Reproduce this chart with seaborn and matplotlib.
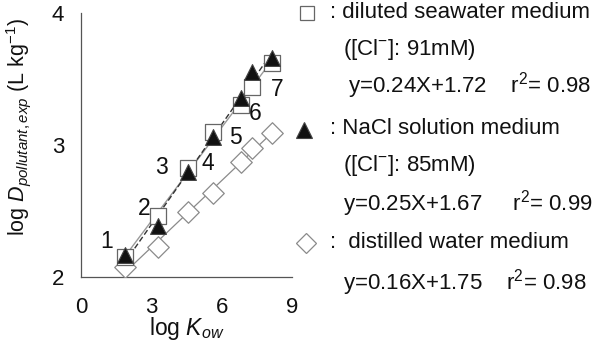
import numpy as np
import pandas as pd
import matplotlib
matplotlib.use("Agg")
import matplotlib.pyplot as plt
import seaborn as sns
from matplotlib.lines import Line2D

sns.set_style("white")
plt.rcParams['font.family'] = ['Liberation Sans', 'DejaVu Sans']
plt.rcParams['mathtext.fontset'] = 'custom'
plt.rcParams['mathtext.rm'] = 'Liberation Sans'
plt.rcParams['mathtext.it'] = 'Liberation Sans:italic'
plt.rcParams['mathtext.bf'] = 'Liberation Sans:bold'

# data
log_kow = [1.88, 3.30, 4.56, 5.63, 6.80, 7.29, 8.13]
seawater = [2.15, 2.46, 2.83, 3.10, 3.30, 3.44, 3.62]
nacl = [2.17, 2.39, 2.80, 3.06, 3.36, 3.55, 3.66]
distilled = [2.08, 2.23, 2.49, 2.64, 2.87, 2.98, 3.09]
compound_ids = ["1", "2", "3", "4", "5", "6", "7"]
label_x = [1.11, 2.69, 3.45, 5.42, 6.57, 7.43, 8.36]
label_y = [2.27, 2.52, 2.83, 2.86, 3.06, 3.24, 3.42]
x_ticks = [0, 3, 6, 9]
y_ticks = [2, 3, 4]

df = pd.DataFrame({"logKow": log_kow, "sea": seawater, "nacl": nacl, "dist": distilled})

fig = plt.figure(figsize=(6, 3.43), dpi=100)
ax = fig.add_axes([0.135, 0.192, 0.352, 0.770])

# regression lines
sns.regplot(data=df, x="logKow", y="dist", scatter=False, ci=None, ax=ax,
            line_kws=dict(color="#8a8a8a", lw=0.9, ls="-"), truncate=True)
sns.regplot(data=df, x="logKow", y="sea", scatter=False, ci=None, ax=ax,
            line_kws=dict(color="#9a9a9a", lw=1.0, ls="-"), truncate=True)
sns.regplot(data=df, x="logKow", y="nacl", scatter=False, ci=None, ax=ax,
            line_kws=dict(color="#333333", lw=1.0, ls=(0, (4, 2))), truncate=True)

# points
sns.scatterplot(data=df, x="logKow", y="dist", marker="D", s=120, color="white",
                edgecolor="#8a8a8a", linewidth=0.9, ax=ax, zorder=3)
sns.scatterplot(data=df, x="logKow", y="sea", marker="s", s=130, color="white",
                edgecolor="#666666", linewidth=0.9, ax=ax, zorder=3)
sns.scatterplot(data=df, x="logKow", y="nacl", marker="^", s=130, color="#111111",
                edgecolor="#444444", linewidth=0.8, ax=ax, zorder=4)

for t, lx, ly in zip(compound_ids, label_x, label_y):
    ax.text(lx, ly, t, fontsize=16.5, ha="center", va="center", color="#111111")

ax.set_xlim(0, 9)
ax.set_ylim(2, 4)
ax.set_xticks(x_ticks)
ax.set_yticks(y_ticks)
ax.tick_params(direction="in", length=5, width=0.8, color="#555555",
               labelsize=16, labelcolor="#111111")
ax.tick_params(axis="x", pad=14)
ax.tick_params(axis="y", pad=12)
for s in ["top", "right"]:
    ax.spines[s].set_visible(False)
for s in ["left", "bottom"]:
    ax.spines[s].set_color("#555555")
    ax.spines[s].set_linewidth(0.9)

ax.set_xlabel(r"log $K_{ow}$", fontsize=16.5, labelpad=-2, color="#111111")
ax.set_ylabel(r"log $D_{pollutant,exp}$ (L kg$^{-1}$)", fontsize=15.5, color="#111111")
ax.yaxis.set_label_coords(-0.225, 0.57)

# legend block (figure pixels -> fractions)
W, H = 600.0, 343.0
def fx(px): return px / W
def fy(py): return 1 - py / H

fig.add_artist(Line2D([fx(307)], [fy(13)], marker="s", ms=10.5, mfc="white",
                      mec="#666666", mew=0.9, transform=fig.transFigure))
fig.add_artist(Line2D([fx(304)], [fy(130)], marker="^", ms=12, mfc="#111111",
                      mec="#444444", mew=0.8, transform=fig.transFigure))
fig.add_artist(Line2D([fx(306)], [fy(243)], marker="D", ms=10.5, mfc="white",
                      mec="#8a8a8a", mew=0.9, transform=fig.transFigure))

lines = [
    (330, 12, ": diluted seawater medium"),
    (343, 49, "([Cl$^{-}$]: 91mM)"),
    (348, 86, "y=0.24X+1.72    r$^{2}$= 0.98"),
    (330, 129, ": NaCl solution medium"),
    (343, 166, "([Cl$^{-}$]: 85mM)"),
    (343, 204, "y=0.25X+1.67     r$^{2}$= 0.99"),
    (330, 243, ":  distilled water medium"),
    (343, 283, "y=0.16X+1.75    r$^{2}$= 0.98"),
]
for px, py, txt in lines:
    fig.text(fx(px), fy(py), txt, fontsize=16, ha="left", va="center", color="#111111")

fig.savefig("out.png", dpi=100)
